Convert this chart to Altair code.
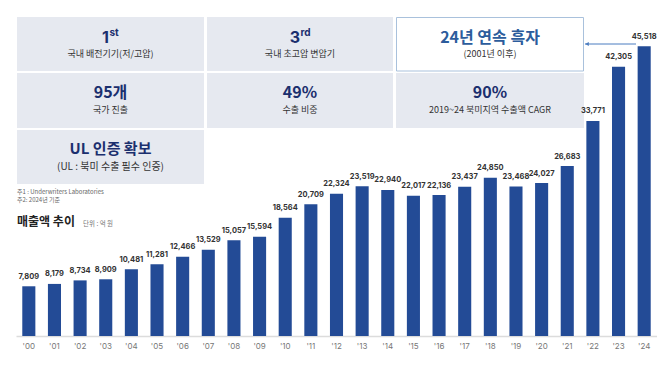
import altair as alt
import pandas as pd

years = ["'00", "'01", "'02", "'03", "'04", "'05", "'06", "'07", "'08", "'09", "'10", "'11", "'12",
         "'13", "'14", "'15", "'16", "'17", "'18", "'19", "'20", "'21", "'22", "'23", "'24"]
sales = [7809, 8179, 8734, 8909, 10481, 11281, 12466, 13529, 15057, 15594, 18564, 20709, 22324,
         23519, 22940, 22017, 22136, 23437, 24850, 23468, 24027, 26683, 33771, 42305, 45518]

FONT = "Inter, 'Noto Sans CJK KR', sans-serif"
KFONT = "'Noto Sans CJK KR', Inter, sans-serif"
NAVY = "#1b2f6e"
BAR = "#234b96"
GREY_BOX = "#e6e9f0"

df = pd.DataFrame({"year": years, "value": sales})
one = pd.DataFrame({"d": [0]})

x_enc = alt.X("year:N", sort=None,
              scale=alt.Scale(paddingInner=0.49, paddingOuter=0.245),
              axis=alt.Axis(title=None, labelAngle=0, ticks=False, domainColor="#dcdcdc",
                            domainWidth=1.5, labelColor="#777777", labelFontSize=8,
                            labelPadding=6, labelFont=FONT))
y_enc = alt.Y("value:Q", scale=alt.Scale(domain=[0, 51200], nice=False), axis=None)

base = alt.Chart(df).encode(x=x_enc, y=y_enc)
bars = base.mark_bar(color=BAR)
labels = base.mark_text(baseline="middle", dy=-9.5, fontSize=7.5, fontWeight="bold",
                        color="#333333", font=FONT).encode(text=alt.Text("value:Q", format=","))

layers = []

def box(x1, y1, x2, y2, fill, stroke=None):
    kw = dict(fill=fill)
    if stroke:
        kw.update(stroke=stroke, strokeWidth=1)
    return alt.Chart(one).mark_rect(**kw).encode(
        x=alt.value(x1), x2=alt.value(x2), y=alt.value(y1), y2=alt.value(y2))

def txt(s, x, y, size, color, weight="normal", align="center", font=KFONT):
    return alt.Chart(one).mark_text(text=s, fontSize=size, color=color, fontWeight=weight,
                                    align=align, baseline="middle", font=font).encode(
        x=alt.value(x), y=alt.value(y))

# boxes (view pixel coordinates; view origin at page (16,10))
layers += [
    box(1, 7, 188, 61, GREY_BOX),
    box(191, 7, 377, 61, GREY_BOX),
    box(380.5, 7.5, 567.5, 61, "#ffffff", "#a9c1dc"),
    box(1, 63, 188, 118, GREY_BOX),
    box(191, 63, 377, 118, GREY_BOX),
    box(380, 63, 568, 118, GREY_BOX),
    box(1, 120, 188, 174, GREY_BOX),
]

layers += [
    txt("1", 93, 27.5, 16, NAVY, "bold", "right", FONT),
    txt("st", 93.5, 23, 10, NAVY, "bold", "left", FONT),
    txt("국내 배전기기(저/고압)", 94.5, 44, 9, "#333333"),
    txt("3", 284, 27.5, 16, NAVY, "bold", "right", FONT),
    txt("rd", 284.5, 23, 10, NAVY, "bold", "left", FONT),
    txt("국내 초고압 변압기", 284, 44, 9, "#333333"),
    txt("24년 연속 흑자", 474, 28, 16, "#2c5c9c", "bold"),
    txt("(2001년 이후)", 474, 44, 9, "#333333"),
    txt("95개", 94.5, 83, 16, NAVY, "bold"),
    txt("국가 진출", 94.5, 100, 9, "#333333"),
    txt("49%", 284, 83, 16, NAVY, "bold"),
    txt("수출 비중", 284, 100, 9, "#333333"),
    txt("90%", 474, 83, 16, NAVY, "bold"),
    txt("2019~24 북미지역 수출액 CAGR", 474, 100, 9, "#333333"),
    txt("UL 인증 확보", 94.5, 139, 15, NAVY, "bold"),
    txt("(UL : 북미 수출 필수 인증)", 94.5, 157, 10, "#333333"),
    txt("주1 : Underwriters Laboratories", 1, 181.5, 6, "#666666", align="left"),
    txt("주2: 2024년 기준", 1, 189.5, 6, "#666666", align="left"),
    txt("매출액 추이", 1, 212, 12, "#222222", "bold", "left"),
    txt("단위 : 억 원", 67, 214, 6.5, "#777777", align="left"),
]

arrow_line = alt.Chart(one).mark_rule(color="#4a7cc0", strokeWidth=1).encode(
    x=alt.value(569), x2=alt.value(620), y=alt.value(34))
arrow_head = alt.Chart(one).mark_point(shape="triangle-left", filled=True, color="#4a7cc0",
                                       size=18, opacity=1).encode(
    x=alt.value(571), y=alt.value(34))

chart = alt.layer(*layers, bars, labels, arrow_line, arrow_head).properties(
    width=641, height=326,
    autosize=alt.AutoSizeParams(type="none"),
    padding={"left": 8, "top": 2, "right": 0, "bottom": 22},
).configure_view(stroke=None)

chart.save("out.html", embed_options={"renderer": "svg", "actions": False})
